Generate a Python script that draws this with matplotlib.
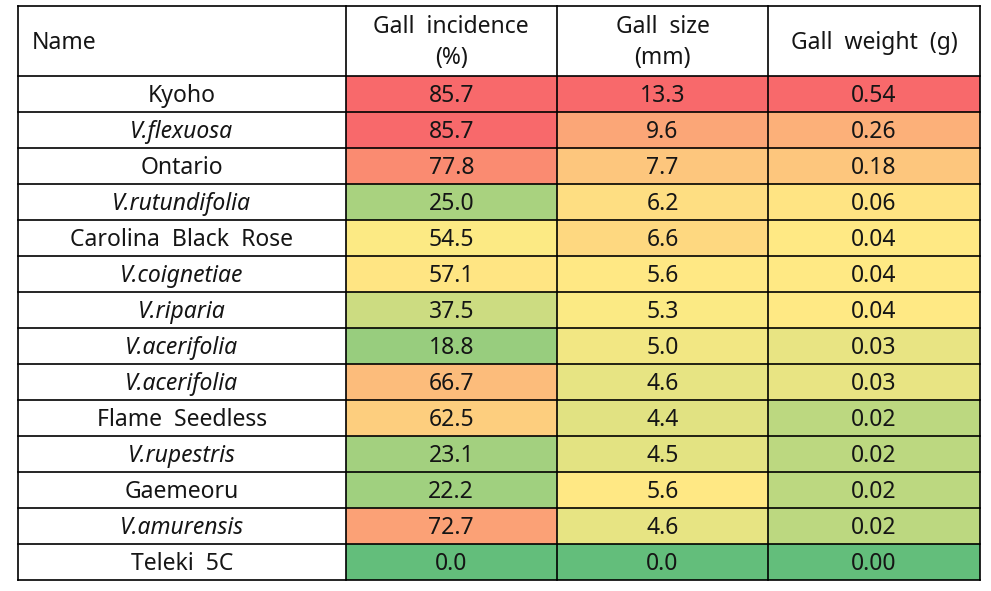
import numpy as np
import matplotlib
matplotlib.use("Agg")
import matplotlib.pyplot as plt
from matplotlib.patches import Rectangle
from matplotlib.colors import LinearSegmentedColormap, TwoSlopeNorm

names = ["Kyoho", "V.flexuosa", "Ontario", "V.rutundifolia", "Carolina  Black  Rose",
         "V.coignetiae", "V.riparia", "V.acerifolia", "V.acerifolia", "Flame  Seedless",
         "V.rupestris", "Gaemeoru", "V.amurensis", "Teleki  5C"]
italic = [False, True, False, True, False, True, True, True, True, False, True, False, True, False]
incidence = [85.7, 85.7, 77.8, 25.0, 54.5, 57.1, 37.5, 18.8, 66.7, 62.5, 23.1, 22.2, 72.7, 0.0]
size_mm = [13.3, 9.6, 7.7, 6.2, 6.6, 5.6, 5.3, 5.0, 4.6, 4.4, 4.5, 5.6, 4.6, 0.0]
weight_g = [0.54, 0.26, 0.18, 0.06, 0.04, 0.04, 0.04, 0.03, 0.03, 0.02, 0.02, 0.02, 0.02, 0.00]
headers = ["Name", "Gall  incidence\n(%)", "Gall  size\n(mm)", "Gall  weight  (g)"]
formats = ["{:.1f}", "{:.1f}", "{:.2f}"]

cmap = LinearSegmentedColormap.from_list("excel3", ["#63BE7B", "#FFEB84", "#F8696B"])

W, H = 991, 591
fig = plt.figure(figsize=(W / 100, H / 100), dpi=100)
ax = fig.add_axes([0, 0, 1, 1])
ax.set_xlim(0, W)
ax.set_ylim(H, 0)
ax.axis("off")

col_edges = [18, 345.5, 557, 768, 980]
top, header_bottom, bottom = 6, 75.5, 580
n = len(names)
row_h = (bottom - header_bottom) / n
fs = 16.5
font = "Noto Sans"
tc = "#151515"

# colored cells
for c, vals in enumerate([incidence, size_mm, weight_g]):
    v = np.array(vals, dtype=float)
    norm = TwoSlopeNorm(vmin=v.min(), vcenter=np.percentile(v, 50), vmax=v.max())
    x0, x1 = col_edges[c + 1], col_edges[c + 2]
    for r, val in enumerate(v):
        y0 = header_bottom + r * row_h
        ax.add_patch(Rectangle((x0, y0), x1 - x0, row_h, facecolor=cmap(norm(val)),
                               edgecolor="none", zorder=1))
        ax.text((x0 + x1) / 2, y0 + row_h / 2 + 2, formats[c].format(val), ha="center",
                va="center", fontsize=fs, family=font, color=tc, zorder=3)

# names
for r, (nm, it) in enumerate(zip(names, italic)):
    y0 = header_bottom + r * row_h
    ax.text((col_edges[0] + col_edges[1]) / 2, y0 + row_h / 2 + 2, nm, ha="center",
            va="center", fontsize=fs, family=font, style="italic" if it else "normal",
            color=tc, zorder=3)

# headers
hy = (top + header_bottom) / 2
ax.text(32, hy + 2, headers[0], ha="left", va="center", fontsize=fs, family=font,
        color=tc)
for c in range(1, 4):
    ax.text((col_edges[c] + col_edges[c + 1]) / 2, hy + 2, headers[c], ha="center",
            va="center", fontsize=fs, family=font, color=tc, linespacing=1.4)

# grid lines
lw = 1.2
for x in col_edges:
    ax.plot([x, x], [top, bottom], color="black", lw=lw, zorder=4, solid_capstyle="projecting")
ys = [top, header_bottom] + [header_bottom + (r + 1) * row_h for r in range(n)]
for y in ys:
    ax.plot([col_edges[0], col_edges[-1]], [y, y], color="black", lw=lw, zorder=4,
            solid_capstyle="projecting")

fig.savefig("out.png", dpi=100, facecolor="white")
